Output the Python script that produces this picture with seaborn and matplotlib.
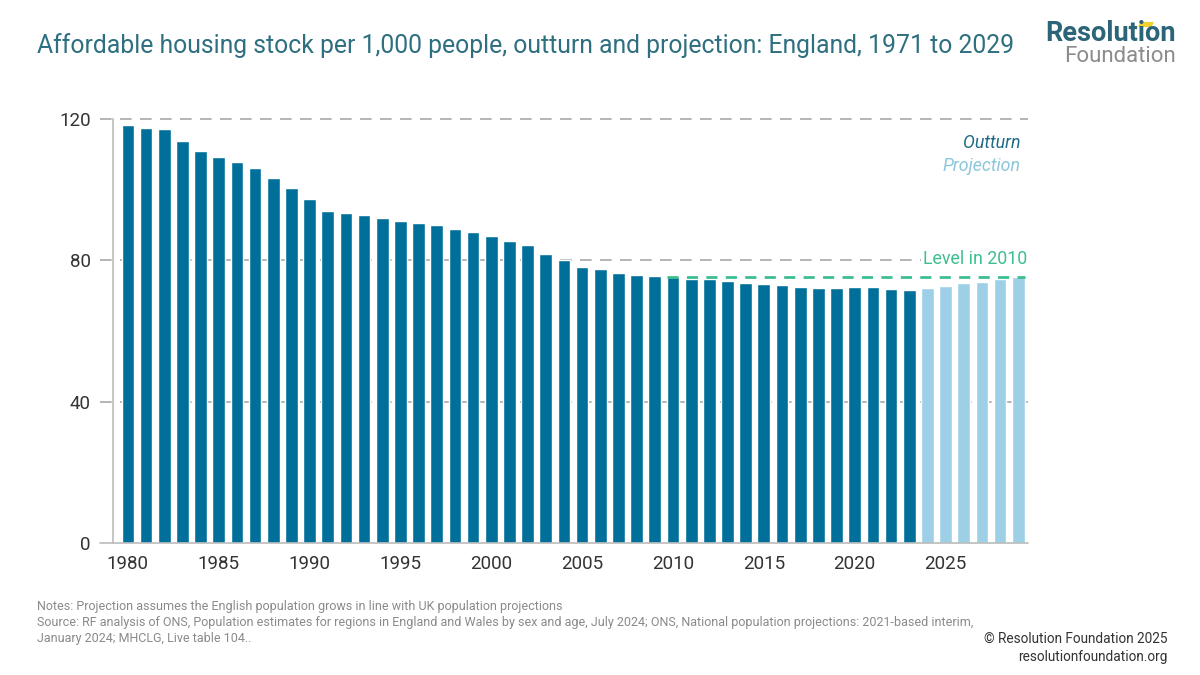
import matplotlib
matplotlib.use("Agg")
import matplotlib.pyplot as plt
import seaborn as sns
import pandas as pd
from matplotlib.patches import Polygon

# data
years = list(range(1980, 2030))
outturn = [118.2, 117.6, 117.1, 113.7, 111.1, 109.3, 107.8, 106.2, 103.4, 100.5,
           97.3, 94.0, 93.4, 92.8, 92.0, 91.2, 90.7, 89.9, 88.9, 87.9,
           86.8, 85.4, 84.3, 81.8, 80.2, 78.2, 77.5, 76.5, 75.8, 75.6,
           75.2, 74.8, 74.6, 74.2, 73.7, 73.4, 73.1, 72.6, 72.3, 72.1,
           72.4, 72.4, 71.9, 71.6]
projection = [72.2, 72.8, 73.5, 74.0, 74.6, 75.2]
level_2010 = 75.2
yticks = [0, 40, 80, 120]
xticks = list(range(1980, 2030, 5))

TEAL = "#00709A"
LIGHT = "#9DD0E6"
GREEN = "#3DBE8E"
GRID = "#A8A8A8"
TITLE_C = "#2E6F80"

df = pd.DataFrame({
    "year": years,
    "value": outturn + projection,
    "kind": ["Outturn"] * len(outturn) + ["Projection"] * len(projection),
})

sns.set_style("white")
plt.rcParams["font.family"] = ["Roboto", "DejaVu Sans"]

fig = plt.figure(figsize=(12, 6.75), dpi=100)
ax = fig.add_axes([0.094, 0.1956, 0.763, 0.628])

sns.barplot(data=df, x="year", y="value", hue="kind", native_scale=True,
            palette={"Outturn": TEAL, "Projection": LIGHT}, dodge=False,
            width=0.7, saturation=1, legend=False, ax=ax)

ax.set_xlim(1979.17, 2029.56)
ax.set_ylim(0, 120)

dash = (0, (7, 5))
ax.axhline(120, xmin=-0.014, xmax=1, color=GRID, lw=1.2, ls=dash, clip_on=False, zorder=0.5)
ax.axhline(80, xmin=-0.014, xmax=0.883, color=GRID, lw=1.2, ls=dash, clip_on=False, zorder=0.5)
ax.axhline(40, xmin=-0.014, xmax=1, color=GRID, lw=1.2, ls=dash, clip_on=False, zorder=0.5)
ax.axhline(0, xmin=-0.014, xmax=1, color="#BBBBBB", lw=1.2, clip_on=False, zorder=3)

# level in 2010 line
ax.hlines(level_2010, 2010 - 0.35, 2029 + 0.35, color=GREEN, lw=2, ls=(0, (4, 3)), zorder=4)
ax.text(2029.5, 80.3, "Level in 2010", color=GREEN, fontsize=12.8, ha="right", va="center")

ax.text(2029.1, 113.3, "Outturn", color="#1F6A84", fontsize=12.8, style="italic",
        ha="right", va="center")
ax.text(2029.1, 106.8, "Projection", color="#8CC6DA", fontsize=12.8, style="italic",
        ha="right", va="center")

sns.despine(ax=ax, top=True, right=True, bottom=True, left=False)
ax.spines["left"].set_color("#BBBBBB")
ax.spines["left"].set_linewidth(1.2)

ax.set_yticks(yticks)
ax.set_yticklabels([str(v) for v in yticks])
ax.set_xticks(xticks)
ax.set_xticklabels([str(v) for v in xticks])
ax.tick_params(axis="y", length=0, pad=16, labelsize=13.5, labelcolor="#333333")
ax.tick_params(axis="x", length=0, pad=9, labelsize=13.5, labelcolor="#333333")
ax.set_xlabel("")
ax.set_ylabel("")

fig.text(0.031, 0.933, "Affordable housing stock per 1,000 people, outturn and projection: England, 1971 to 2029",
         color=TITLE_C, fontsize=17.8, ha="left", va="center")

# logo
fig.text(0.980, 0.950, "Resolution", color="#2C6478", fontsize=19.5, fontweight="bold",
         ha="right", va="center")
fig.text(0.980, 0.917, "Foundation", color="#8C8C8C", fontsize=16, ha="right", va="center")
fig.patches.append(Polygon([[0.951, 0.9665], [0.961, 0.9665], [0.959, 0.961], [0.949, 0.961]],
                           closed=True, transform=fig.transFigure, color="#F2D22E"))

notes = ("Notes: Projection assumes the English population grows in line with UK population projections\n"
         "Source: RF analysis of ONS, Population estimates for regions in England and Wales by sex and age, July 2024; ONS, National population projections: 2021-based interim,\n"
         "January 2024; MHCLG, Live table 104..")
fig.text(0.031, 0.111, notes, color="#8A8A8A", fontsize=9, ha="left", va="top", linespacing=1.3)
fig.text(0.973, 0.04, "\u00a9 Resolution Foundation 2025\nresolutionfoundation.org",
         color="#333333", fontsize=9.8, ha="right", va="center", linespacing=1.4)

fig.savefig("out.png", dpi=100, facecolor="white")
